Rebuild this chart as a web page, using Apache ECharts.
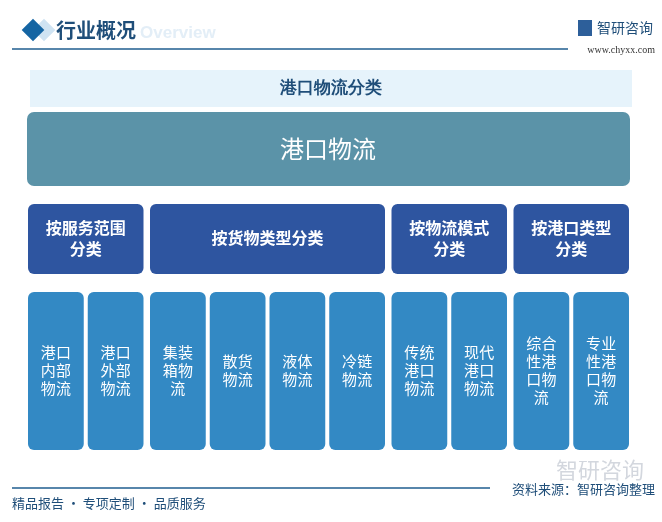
<!DOCTYPE html>
<html>
<head>
<meta charset="utf-8">
<script src="https://cdn.jsdelivr.net/npm/echarts@6/dist/echarts.min.js"></script>
<style>html,body{margin:0;padding:0;background:#fff}</style>
</head>
<body>
<div id="main" style="width:662px;height:522px;"></div>
<script>
var chartTitle = '港口物流分类';
var rootName = '港口物流';
var groupNames = ['按服务范围\n分类', '按货物类型分类', '按物流模式\n分类', '按港口类型\n分类'];
var groupSizes = [2, 4, 2, 2];
var leafNames = ['港口内部物流', '港口外部物流', '集装箱物流', '散货物流', '液体物流', '冷链物流',
  '传统港口物流', '现代港口物流', '综合性港口物流', '专业性港口物流'];

var myChart = echarts.init(document.getElementById('main'));
var font = '"Noto Sans CJK SC", sans-serif';
var g = [];

// header
g.push({type: 'rect', shape: {x: -8, y: -8, width: 16, height: 16}, rotation: Math.PI / 4, x: 44, y: 30, style: {fill: '#cfe3f2'}});
g.push({type: 'rect', shape: {x: -8, y: -8, width: 16, height: 16}, rotation: Math.PI / 4, x: 33, y: 30, style: {fill: '#1565a3'}});
g.push({type: 'text', x: 56, y: 30, style: {text: '行业概况', font: 'bold 20px ' + font, fill: '#1f4e79', verticalAlign: 'middle'}});
g.push({type: 'text', x: 140, y: 33, style: {text: 'Overview', font: 'bold 17px sans-serif', fill: '#e3eef7', verticalAlign: 'middle'}});
g.push({type: 'line', shape: {x1: 12, y1: 49, x2: 568, y2: 49}, style: {stroke: '#1f5e8f', lineWidth: 1.5}});
g.push({type: 'rect', shape: {x: 578, y: 20, width: 14, height: 16}, style: {fill: '#2d5f9a'}});
g.push({type: 'text', x: 597, y: 28, style: {text: '智研咨询', font: '14px ' + font, fill: '#1f4e79', verticalAlign: 'middle'}});
g.push({type: 'text', x: 655, y: 50, style: {text: 'www.chyxx.com', font: '10px serif', fill: '#333', align: 'right', verticalAlign: 'middle'}});

// title bar
g.push({type: 'rect', shape: {x: 30, y: 70, width: 602, height: 37}, style: {fill: '#e6f3fb'}});
g.push({type: 'text', x: 331, y: 89, style: {text: chartTitle, font: 'bold 17px serif', fill: '#1f4e79', align: 'center', verticalAlign: 'middle'}});

// root
g.push({type: 'rect', shape: {x: 27, y: 112, width: 603, height: 74, r: 7}, style: {fill: '#5b93a8'}});
g.push({type: 'text', x: 328, y: 149, style: {text: rootName, font: '24px ' + font, fill: '#fff', align: 'center', verticalAlign: 'middle'}});

// leaves and groups
var leafW = 55.75, gap = 4, groupGap = 6.5;
var x = 28, li = 0;
groupSizes.forEach(function (n, gi) {
  var gx = x;
  for (var k = 0; k < n; k++) {
    var name = leafNames[li++];
    var lines = name.match(/.{1,2}/g).join('\n');
    g.push({type: 'rect', shape: {x: x, y: 292, width: leafW, height: 158, r: 6}, style: {fill: '#3389c4'}});
    g.push({type: 'text', x: x + leafW / 2, y: 370, style: {text: lines, font: '15px ' + font, lineHeight: 18, fill: '#fff', align: 'center', verticalAlign: 'middle'}});
    x += leafW + (k < n - 1 ? gap : 0);
  }
  var gw = x - gx;
  g.push({type: 'rect', shape: {x: gx, y: 204, width: gw, height: 70, r: 6}, style: {fill: '#2e55a0'}});
  g.push({type: 'text', x: gx + gw / 2, y: 238, style: {text: groupNames[gi], font: 'bold 16px ' + font, lineHeight: 21, fill: '#fff', align: 'center', verticalAlign: 'middle'}});
  x += groupGap;
});

// footer
g.push({type: 'text', x: 600, y: 470, style: {text: '智研咨询', font: '22px ' + font, fill: '#d3d7de', align: 'center', verticalAlign: 'middle'}});
g.push({type: 'line', shape: {x1: 12, y1: 488, x2: 490, y2: 488}, style: {stroke: '#1f5e8f', lineWidth: 1.5}});
g.push({type: 'text', x: 655, y: 489, style: {text: '资料来源：智研咨询整理', font: '13px ' + font, fill: '#1f4e79', align: 'right', verticalAlign: 'middle'}});
g.push({type: 'text', x: 12, y: 503, style: {text: '精品报告 · 专项定制 · 品质服务', font: '13px ' + font, fill: '#1f4e79', verticalAlign: 'middle'}});

myChart.setOption({animation: false, graphic: {elements: g}});
</script>
</body>
</html>
